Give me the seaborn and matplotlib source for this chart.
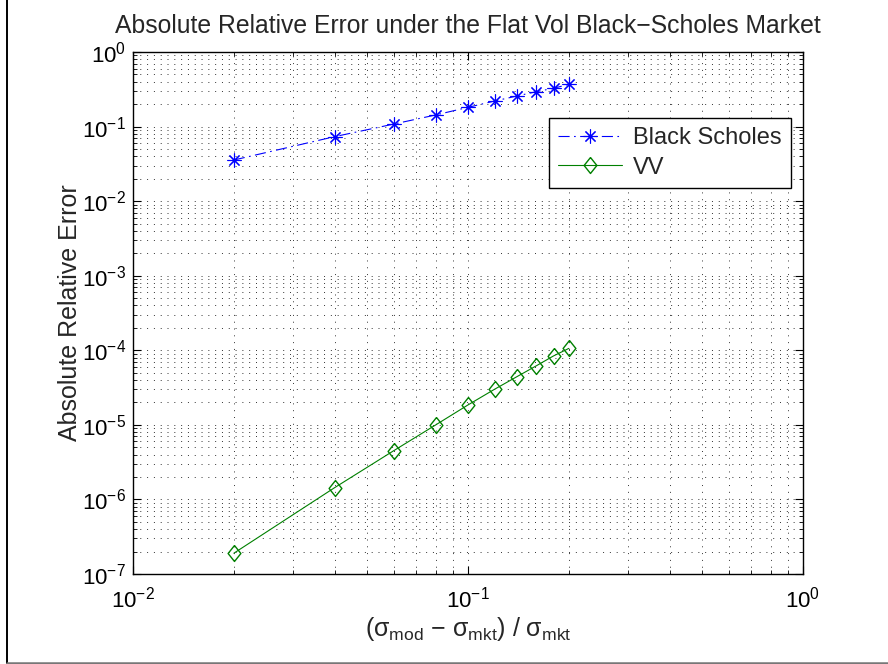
import matplotlib
matplotlib.use("Agg")
import matplotlib.pyplot as plt
import matplotlib.ticker as mticker
from matplotlib.lines import Line2D
import seaborn as sns
import numpy as np

# ---- data ----
rel_vol_diff = [0.02, 0.04, 0.06, 0.08, 0.10, 0.12, 0.14, 0.16, 0.18, 0.20]
bs_error = [0.0356, 0.0733, 0.108, 0.143, 0.181, 0.220, 0.257, 0.294, 0.326, 0.369]
vv_error = [1.9e-7, 1.44e-6, 4.5e-6, 9.95e-6, 1.85e-5, 3.0e-5, 4.43e-5, 6.2e-5, 8.4e-5, 1.06e-4]
series_names = ["Black Scholes", "VV"]
title_text = "Absolute Relative Error under the Flat Vol Black\u2212Scholes Market"

sns.set_style("white")
plt.rcParams["font.family"] = ["Liberation Sans", "DejaVu Sans"]
plt.rcParams["mathtext.fontset"] = "custom"
plt.rcParams["mathtext.rm"] = "Liberation Sans"
plt.rcParams["mathtext.it"] = "Liberation Sans:italic"
plt.rcParams["mathtext.default"] = "regular"

fig = plt.figure(figsize=(8.88, 6.64), dpi=100)
W, H = 888, 664
ax = fig.add_axes([133 / W, 1 - 574 / H, (803 - 133) / W, (574 - 52) / H])

blue = (0, 0, 1)
green = (0, 0.5, 0)
star = (8, 2, 0)
diamond = [(0, 1), (0.8, 0), (0, -1), (-0.8, 0), (0, 1)]
dashdot = (0, (10, 4, 1.5, 4))

sns.lineplot(x=rel_vol_diff, y=bs_error, ax=ax, color=blue, lw=0.8,
             marker=star, markersize=10, label=series_names[0], legend=False)
sns.lineplot(x=rel_vol_diff, y=vv_error, ax=ax, color=green, lw=0.8,
             marker=diamond, markersize=11.5, label=series_names[1], legend=False)

l_bs, l_vv = ax.lines[0], ax.lines[1]
l_bs.set_linestyle(dashdot)
l_bs.set_markeredgecolor(blue)
l_bs.set_markerfacecolor(blue)
l_bs.set_markeredgewidth(0.8)
l_vv.set_linestyle("-")
l_vv.set_markeredgecolor(green)
l_vv.set_markerfacecolor("none")
l_vv.set_markeredgewidth(1.0)

ax.set_xscale("log")
ax.set_yscale("log")
ax.set_xlim(1e-2, 1e0)
ax.set_ylim(1e-7, 1e0)
ax.xaxis.set_major_locator(mticker.LogLocator(base=10, numticks=10))
ax.yaxis.set_major_locator(mticker.LogLocator(base=10, numticks=10))
ax.xaxis.set_minor_locator(mticker.LogLocator(base=10, subs=np.arange(2, 10), numticks=20))
ax.yaxis.set_minor_locator(mticker.LogLocator(base=10, subs=np.arange(2, 10), numticks=20))
ax.xaxis.set_minor_formatter(mticker.NullFormatter())
ax.yaxis.set_minor_formatter(mticker.NullFormatter())

ax.grid(True, which="both", color="#333333", linestyle=(0, (1, 6)), linewidth=0.7)
ax.set_axisbelow(True)

ax.tick_params(which="both", direction="in", top=True, right=True,
               bottom=True, left=True, colors="black")
ax.tick_params(which="major", length=6, width=0.8, labelsize=16)
ax.tick_params(axis="y", which="major", pad=5)
ax.tick_params(axis="x", which="major", pad=9)
ax.tick_params(which="minor", length=3, width=0.6)
for s in ax.spines.values():
    s.set_visible(True)
    s.set_color("black")
    s.set_linewidth(1.0)

ax.set_title(title_text, fontsize=17.8, pad=14)
ax.set_ylabel("Absolute Relative Error", fontsize=18)
ax.yaxis.set_label_coords(-0.076, 0.5)
ax.set_xlabel(r"($\sigma_{mod}$ $-$ $\sigma_{mkt}$) / $\sigma_{mkt}$", fontsize=18)
ax.xaxis.set_label_coords(0.5, -0.078)

handles = [
    Line2D([], [], color=blue, lw=0.8, linestyle=dashdot,
           marker=star, markersize=10, markeredgewidth=0.8),
    Line2D([], [], color=green, lw=0.8, linestyle="-",
           marker=diamond, markersize=11.5,
           markerfacecolor="none", markeredgewidth=1.0),
]
leg = ax.legend(handles, series_names, loc="upper right",
                bbox_to_anchor=(0.982, 0.8736), borderaxespad=0,
                fontsize=17, fancybox=False, framealpha=1, edgecolor="black",
                handlelength=2.7, handletextpad=0.45, borderpad=0.4,
                labelspacing=0.3)
leg.get_frame().set_linewidth(1.0)

# outer frame lines seen in the reference
fig.add_artist(Line2D([6.5 / W, 6.5 / W], [1.5 / H, 1.0], transform=fig.transFigure,
                      color="black", lw=1.4))
fig.add_artist(Line2D([6.5 / W, 1.0], [1.5 / H, 1.5 / H], transform=fig.transFigure,
                      color="#777777", lw=1.8))

fig.savefig("out.png", dpi=100)
